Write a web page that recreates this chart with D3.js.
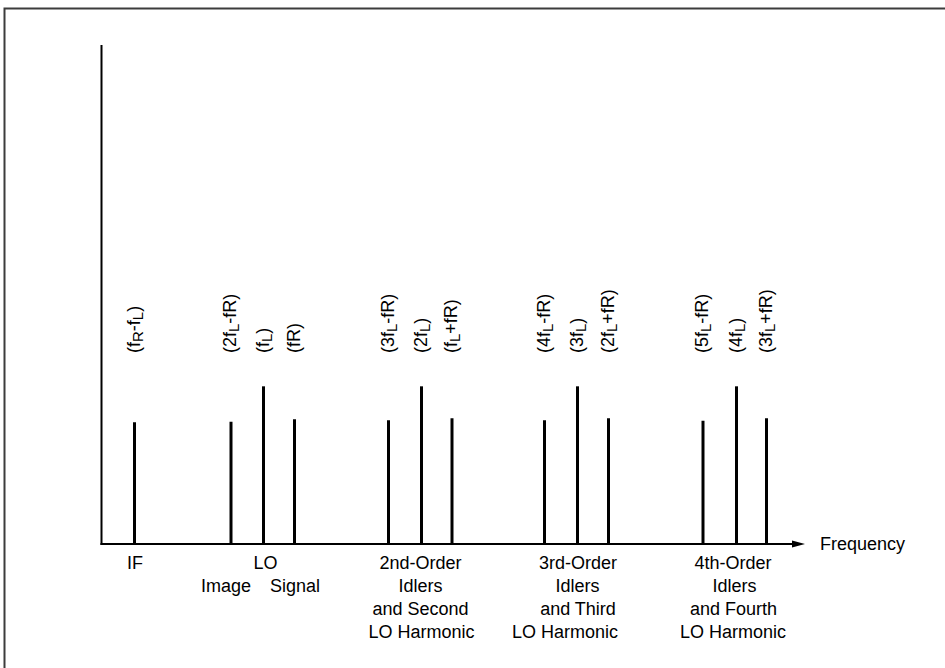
<!DOCTYPE html>
<html>
<head>
<meta charset="utf-8">
<script src="https://cdn.jsdelivr.net/npm/d3@7"></script>
<style>
  html, body { margin: 0; padding: 0; background: #fff; }
  svg { display: block; }
  text { font-family: "Liberation Sans", Arial, Helvetica, sans-serif; fill: #000; }
</style>
</head>
<body>
<svg id="chart" width="945" height="668"></svg>
<script>
// Mixer output spectrum: tone frequencies (schematic units) and relative levels.
// "_X" in a tone name renders X as a subscript.
const toneNames = [
  "(f_R-f_L)",
  "(2f_L-fR)", "(f_L)", "(fR)",
  "(3f_L-fR)", "(2f_L)", "(f_L+fR)",
  "(4f_L-fR)", "(3f_L)", "(2f_L+fR)",
  "(5f_L-fR)", "(4f_L)", "(3f_L+fR)"
];
const toneFreqs  = [33, 129.5, 162, 193, 287, 320, 350.5, 443, 476, 507, 601.5, 635, 665];
const toneLevels = [2.44, 2.45, 3.16, 2.5, 2.48, 3.16, 2.52, 2.48, 3.16, 2.52, 2.47, 3.16, 2.52];

// Band captions under the frequency axis: text, centre frequency, line number.
const bandText  = ["IF", "LO", "Image", "Signal",
                   "2nd-Order", "Idlers", "and Second", "LO Harmonic",
                   "3rd-Order", "Idlers", "and Third", "LO Harmonic",
                   "4th-Order", "Idlers", "and Fourth", "LO Harmonic"];
const bandFreq  = [33.5, 164, 124.5, 193.5,
                   319, 319, 319, 320,
                   476.5, 476, 476.5, 463.5,
                   631.5, 633, 632, 631.5];
const bandLine  = [0, 0, 1, 1,
                   0, 1, 2, 3,
                   0, 1, 2, 3,
                   0, 1, 2, 3];

const axisTitle = "Frequency";
const freqMax = 703.5;
const levelMax = 10;

const svg = d3.select("#chart");

// outer frame
svg.append("rect")
  .attr("x", 4.5).attr("y", 8.5)
  .attr("width", 980).attr("height", 720)
  .attr("fill", "none")
  .attr("stroke", "#3c3c3c")
  .attr("stroke-width", 2);

const x = d3.scaleLinear().domain([0, freqMax]).range([101.5, 805]);
const y = d3.scaleLinear().domain([0, levelMax]).range([544, 45]);

// vertical (level) axis
svg.append("line")
  .attr("x1", x(0)).attr("x2", x(0))
  .attr("y1", y(levelMax)).attr("y2", y(0) + 1)
  .attr("stroke", "#000").attr("stroke-width", 2);

// frequency axis with arrow head
const arrowLen = 13;
svg.append("line")
  .attr("x1", x(0) - 1).attr("x2", x(freqMax) - arrowLen + 1)
  .attr("y1", y(0)).attr("y2", y(0))
  .attr("stroke", "#000").attr("stroke-width", 2);
svg.append("path")
  .attr("d", d3.line()([
    [x(freqMax) - arrowLen, y(0) - 3.5],
    [x(freqMax), y(0)],
    [x(freqMax) - arrowLen, y(0) + 3.5]
  ]) + "Z")
  .attr("fill", "#000");

svg.append("text")
  .attr("x", 820).attr("y", y(0) + 5.5)
  .attr("font-size", 18)
  .text(axisTitle);

// spectral lines
const tones = toneNames.map((name, i) => ({ name, f: toneFreqs[i], level: toneLevels[i] }));

svg.append("g").selectAll("line")
  .data(tones)
  .join("line")
  .attr("x1", d => x(d.f)).attr("x2", d => x(d.f))
  .attr("y1", y(0)).attr("y2", d => y(d.level))
  .attr("stroke", "#000")
  .attr("stroke-width", 3);

// rotated tone names with subscripts
function segments(s) {
  const out = [];
  let buf = "";
  for (let i = 0; i < s.length; i++) {
    if (s[i] === "_" && i + 1 < s.length) {
      if (buf) { out.push({ t: buf, sub: false }); buf = ""; }
      out.push({ t: s[i + 1], sub: true });
      i++;
    } else {
      buf += s[i];
    }
  }
  if (buf) out.push({ t: buf, sub: false });
  return out;
}

const labelBase = 353;
const nameG = svg.append("g").selectAll("text")
  .data(tones)
  .join("text")
  .attr("font-size", 18)
  .attr("transform", d => `translate(${x(d.f) + 5},${labelBase}) rotate(-90)`);

nameG.each(function (d) {
  const t = d3.select(this);
  let shifted = false;
  segments(d.name).forEach(seg => {
    const sp = t.append("tspan").text(seg.t);
    if (seg.sub) {
      sp.attr("font-size", 15).attr("dy", shifted ? 0 : 3);
      shifted = true;
    } else {
      if (shifted) sp.attr("dy", -3);
      shifted = false;
    }
  });
});

// band captions
const lineGap = 23;
svg.append("g").selectAll("text")
  .data(bandText.map((t, i) => ({ t, f: bandFreq[i], line: bandLine[i] })))
  .join("text")
  .attr("x", d => x(d.f))
  .attr("y", d => 569 + d.line * lineGap)
  .attr("text-anchor", "middle")
  .attr("font-size", 18)
  .text(d => d.t);
</script>
</body>
</html>
